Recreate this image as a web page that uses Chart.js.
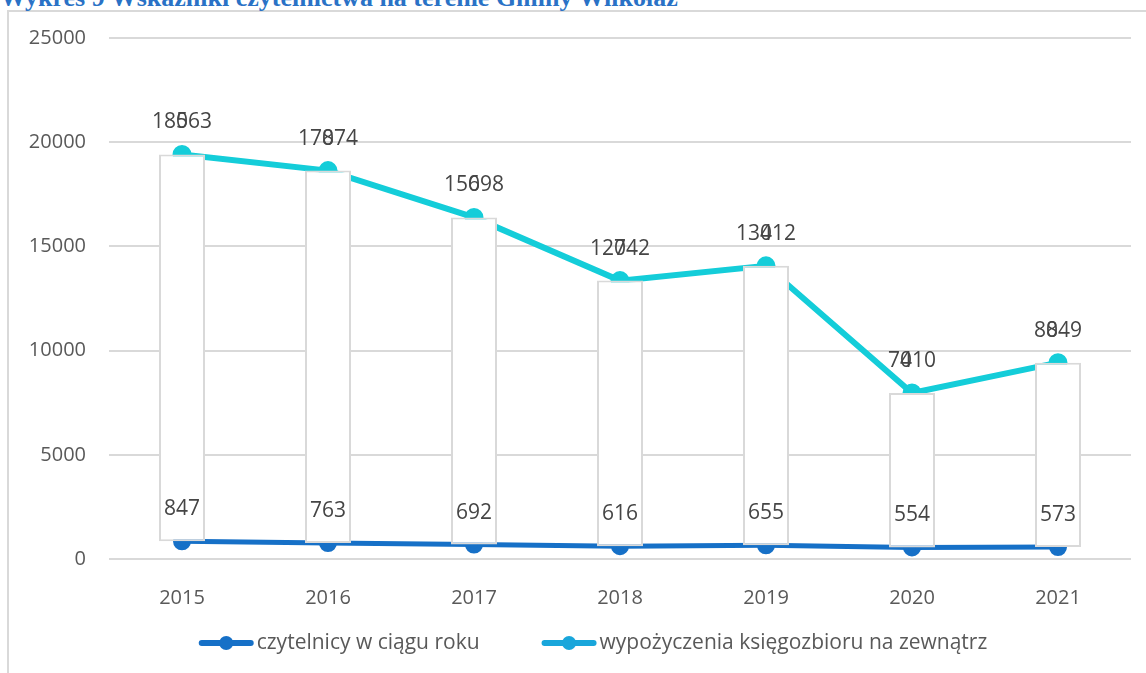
<!DOCTYPE html>
<html>
<head>
<meta charset="utf-8">
<script src="https://cdn.jsdelivr.net/npm/chart.js@4"></script>
<style>
  html, body { margin: 0; padding: 0; background: #fff; overflow: hidden; }
  #frame {
    position: absolute; left: 7px; top: 10px; width: 1200px; height: 700px;
    border-left: 2px solid #d9d9d9; border-top: 2px solid #d9d9d9;
  }
  #title {
    position: absolute; left: 0; top: -15px; white-space: nowrap;
    font: bold 26px "Liberation Serif", serif; line-height: 26px; color: #2a72c6;
  }
  #chart { position: absolute; left: 0; top: 0; }
</style>
</head>
<body>
<div id="frame"></div>
<div id="title">Wykres 9 Wskaźniki czytelnictwa na terenie Gminy Wilkołaz</div>
<canvas id="chart" width="1146" height="673"></canvas>
<script>
const years = ["2015", "2016", "2017", "2018", "2019", "2020", "2021"];
const czytelnicy = [847, 763, 692, 616, 655, 554, 573];
const wypozyczenia = [18563, 17874, 15698, 12742, 13412, 7410, 8849];
const seriesNames = ["czytelnicy w ciągu roku", "wypożyczenia księgozbioru na zewnątrz"];

const darkBlue = "#1670c7";
const cyan = "#14cdd9";
const legendCyan = "#19a6db";
const font = '"Open Sans", sans-serif';

// white boxes span from the lower series up to the stacked total
const boxes = years.map((y, i) => [czytelnicy[i], czytelnicy[i] + wypozyczenia[i]]);

const valueLabels = {
  id: "valueLabels",
  afterDatasetsDraw(chart) {
    const ctx = chart.ctx;
    ctx.save();
    ctx.font = "21px " + font;
    ctx.fillStyle = "#454545";
    ctx.textAlign = "left";
    ctx.textBaseline = "middle";
    [1, 2].forEach((di) => {
      const meta = chart.getDatasetMeta(di);
      const vals = di === 1 ? czytelnicy : wypozyczenia;
      meta.data.forEach((pt, i) => {
        const txt = String(vals[i]);
        const w = ctx.measureText(txt).width;
        const x0 = pt.x - w / 2;
        const y = pt.y - 32;
        ctx.fillText(txt, x0, y);
        if (txt.length >= 4) {
          const pre = ctx.measureText(txt.slice(0, txt.length - 3)).width;
          const cw = ctx.measureText(txt[txt.length - 3]).width;
          const zw = ctx.measureText("0").width;
          ctx.fillText("0", x0 + pre + cw / 2 - zw / 2, y);
        }
      });
    });
    ctx.restore();
  },
};

// Excel-style legend: line + marker, then the series name
const legendDraw = {
  id: "legendDraw",
  afterDraw(chart) {
    const ctx = chart.ctx;
    const colors = [darkBlue, legendCyan];
    const y = 643;
    ctx.save();
    ctx.font = "21px " + font;
    ctx.textBaseline = "middle";
    const markW = 55, gap = 3, itemGap = 62;
    const widths = seriesNames.map((s) => ctx.measureText(s).width);
    const total = 2 * (markW + gap) + widths[0] + widths[1] + itemGap;
    let x = 593 - total / 2;
    seriesNames.forEach((name, k) => {
      ctx.strokeStyle = colors[k];
      ctx.fillStyle = colors[k];
      ctx.lineWidth = 6;
      ctx.lineCap = "round";
      ctx.beginPath();
      ctx.moveTo(x + 3, y);
      ctx.lineTo(x + markW - 3, y);
      ctx.stroke();
      ctx.beginPath();
      ctx.arc(x + markW / 2, y, 7, 0, Math.PI * 2);
      ctx.fill();
      x += markW + gap;
      ctx.fillStyle = "#595959";
      ctx.fillText(name, x, y);
      x += widths[k] + itemGap;
    });
    ctx.restore();
  },
};

new Chart("chart", {
  data: {
    labels: years,
    datasets: [
      {
        type: "bar",
        label: "boxes",
        data: boxes,
        yAxisID: "yBox",
        backgroundColor: "#ffffff",
        borderColor: "#d9d9d9",
        borderWidth: 2,
        borderSkipped: false,
        categoryPercentage: 1,
        barPercentage: 0.315,
        order: 0,
      },
      {
        type: "line",
        label: seriesNames[0],
        data: czytelnicy,
        borderColor: darkBlue,
        backgroundColor: darkBlue,
        borderWidth: 5,
        pointRadius: 6.5,
        pointHoverRadius: 6.5,
        tension: 0,
        order: 1,
      },
      {
        type: "line",
        label: seriesNames[1],
        data: wypozyczenia,
        borderColor: cyan,
        backgroundColor: cyan,
        borderWidth: 6,
        pointRadius: 6.5,
        pointHoverRadius: 6.5,
        tension: 0,
        order: 2,
      },
    ],
  },
  options: {
    responsive: false,
    animation: false,
    layout: { padding: { top: 38, right: 15, bottom: 50, left: 0 } },
    plugins: {
      tooltip: { enabled: false },
      legend: { display: false },
    },
    scales: {
      x: {
        offset: true,
        grid: { display: false },
        border: { display: false },
        ticks: { color: "#595959", font: { family: font, size: 20 }, padding: 19 },
        afterFit(scale) { scale.height = 64; },
      },
      y: {
        stacked: true,
        min: 0,
        max: 25000,
        border: { display: false },
        grid: { color: "#d9d9d9", lineWidth: 2, drawTicks: false },
        ticks: {
          stepSize: 5000,
          color: "#595959",
          font: { family: font, size: 20 },
          padding: 23,
          callback: (v) => String(v),
        },
        afterFit(scale) { scale.width = 109; },
      },
      yBox: {
        display: false,
        min: 0,
        max: 25000,
      },
    },
  },
  plugins: [valueLabels, legendDraw],
});
</script>
</body>
</html>
